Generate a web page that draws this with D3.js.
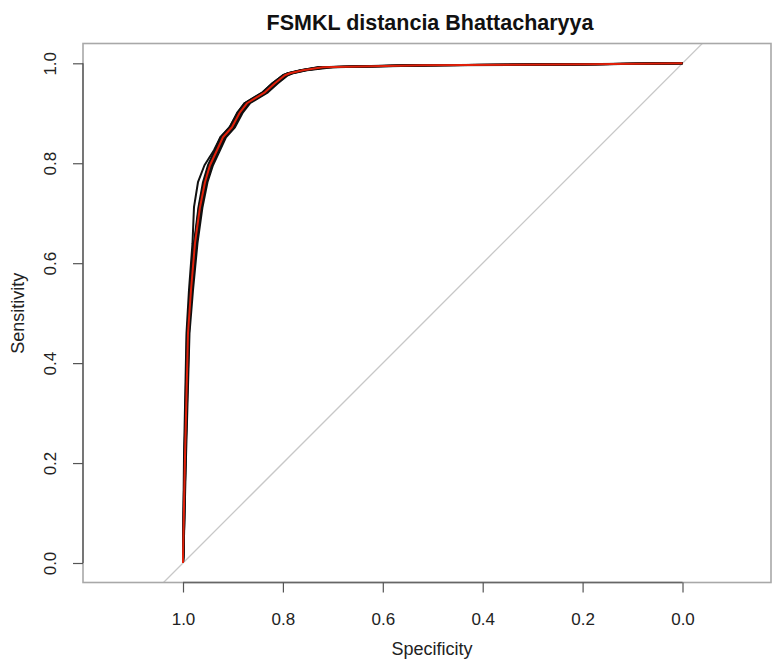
<!DOCTYPE html>
<html>
<head>
<meta charset="utf-8">
<script src="https://cdn.jsdelivr.net/npm/d3@7"></script>
<style>
  html, body { margin: 0; padding: 0; background: #fff; }
  svg { display: block; font-family: "Liberation Sans", Arial, sans-serif; }
</style>
</head>
<body>
<svg id="chart" width="774" height="659"></svg>
<script>
// ROC curves of the cross-validation folds (black) and their mean (red).
const titleText = "FSMKL distancia Bhattacharyya";
const xLabel = "Specificity";
const yLabel = "Sensitivity";
const tickValues = [1.0, 0.8, 0.6, 0.4, 0.2, 0.0];

// Sensitivity levels at which each curve is sampled
const sensitivity = [0, 0.012, 0.212, 0.46, 0.546, 0.64, 0.712, 0.762, 0.796, 0.826, 0.852, 0.872, 0.902, 0.92, 0.93, 0.942, 0.96, 0.976, 0.98, 0.986, 0.992, 0.996, 0.998, 1];

// Specificity of each fold at those sensitivity levels
const fold1 = [1, 1, 0.998, 0.993, 0.988, 0.981, 0.978, 0.970, 0.957, 0.938, 0.925, 0.907, 0.890, 0.877, 0.861, 0.841, 0.821, 0.800, 0.790, 0.765, 0.730, 0.560, 0.22, 0];
const fold2 = [1, 0.999, 0.994, 0.987, 0.980, 0.971, 0.961, 0.951, 0.940, 0.926, 0.914, 0.896, 0.880, 0.866, 0.850, 0.830, 0.810, 0.790, 0.780, 0.752, 0.700, 0.480, 0.16, 0];
const fold3 = [1, 1, 0.997, 0.991, 0.986, 0.978, 0.969, 0.960, 0.950, 0.936, 0.925, 0.906, 0.891, 0.877, 0.860, 0.840, 0.821, 0.800, 0.790, 0.764, 0.728, 0.540, 0.20, 0];
const fold4 = [1, 0.999, 0.995, 0.989, 0.982, 0.973, 0.963, 0.953, 0.942, 0.928, 0.916, 0.898, 0.882, 0.868, 0.852, 0.832, 0.812, 0.792, 0.782, 0.755, 0.710, 0.500, 0.17, 0];
const fold5 = [1, 1, 0.997, 0.992, 0.985, 0.977, 0.968, 0.958, 0.948, 0.935, 0.922, 0.905, 0.889, 0.875, 0.858, 0.838, 0.818, 0.798, 0.788, 0.762, 0.724, 0.530, 0.19, 0];
const fold6 = [1, 0.999, 0.995, 0.988, 0.983, 0.974, 0.964, 0.954, 0.944, 0.930, 0.918, 0.900, 0.884, 0.870, 0.854, 0.834, 0.814, 0.794, 0.784, 0.757, 0.714, 0.510, 0.18, 0];
const fold7 = [1, 1, 0.996, 0.990, 0.985, 0.977, 0.967, 0.957, 0.947, 0.934, 0.921, 0.904, 0.887, 0.873, 0.857, 0.837, 0.817, 0.797, 0.787, 0.761, 0.722, 0.525, 0.19, 0];

// Mean ROC curve
const meanSpecificity = [1, 1, 0.996, 0.990, 0.984, 0.976, 0.966, 0.956, 0.946, 0.932, 0.920, 0.902, 0.886, 0.872, 0.856, 0.836, 0.816, 0.796, 0.786, 0.760, 0.720, 0.520, 0.185, 0];

const folds = [fold1, fold2, fold3, fold4, fold5, fold6, fold7];

const svg = d3.select("#chart");

// Plot region (box) and scales
const box = { left: 83, right: 771, top: 43.5, bottom: 582.5 };
const x = d3.scaleLinear().domain([1, 0]).range([183, 682.5]);
const y = d3.scaleLinear().domain([0, 1]).range([563, 63.3]);

svg.append("clipPath").attr("id", "plotclip")
  .append("rect")
  .attr("x", box.left).attr("y", box.top)
  .attr("width", box.right - box.left).attr("height", box.bottom - box.top);

const plot = svg.append("g").attr("clip-path", "url(#plotclip)");

// Chance diagonal: sensitivity = 1 - specificity, spanning the whole box
const d0 = x.invert(box.left), d1 = x.invert(box.right);
plot.append("line")
  .attr("x1", x(d0)).attr("y1", y(1 - d0))
  .attr("x2", x(d1)).attr("y2", y(1 - d1))
  .attr("stroke", "#c8c8c8").attr("stroke-width", 1.3);

const line = d3.line()
  .x(d => x(d[0]))
  .y(d => y(d[1]));

folds.forEach(spec => {
  plot.append("path")
    .datum(spec.map((s, i) => [s, sensitivity[i]]))
    .attr("d", line)
    .attr("fill", "none")
    .attr("stroke", "#111")
    .attr("stroke-width", 2)
    .attr("stroke-linejoin", "round");
});

plot.append("path")
  .datum(meanSpecificity.map((s, i) => [s, sensitivity[i]]))
  .attr("d", line)
  .attr("fill", "none")
  .attr("stroke", "#e0200a")
  .attr("stroke-width", 2)
  .attr("stroke-linejoin", "round");

// Box
svg.append("rect")
  .attr("x", box.left).attr("y", box.top)
  .attr("width", box.right - box.left).attr("height", box.bottom - box.top)
  .attr("fill", "none").attr("stroke", "#a8a8a8").attr("stroke-width", 1.6);

const fmt = d3.format(".1f");

// Bottom axis
const xAxis = svg.append("g").attr("transform", `translate(0,${box.bottom})`)
  .call(d3.axisBottom(x).tickValues(tickValues).tickFormat(fmt).tickSize(10).tickPadding(20));
xAxis.select(".domain").attr("stroke", "#666").attr("stroke-width", 1.6)
  .attr("d", `M${x(1)},0H${x(0)}`);
xAxis.selectAll(".tick line").attr("stroke", "#555").attr("stroke-width", 1.2);
xAxis.selectAll(".tick text").attr("font-size", 17).attr("fill", "#222")
  .attr("font-family", "Liberation Sans, Arial, sans-serif");

// Left axis
const yAxis = svg.append("g").attr("transform", `translate(${box.left},0)`)
  .call(d3.axisLeft(y).tickValues(tickValues).tickFormat(fmt).tickSize(10));
yAxis.select(".domain").attr("stroke", "#666").attr("stroke-width", 1.6)
  .attr("d", `M0,${y(0)}V${y(1)}`);
yAxis.selectAll(".tick line").attr("stroke", "#555").attr("stroke-width", 1.2);
yAxis.selectAll(".tick text")
  .attr("font-size", 17).attr("fill", "#222")
  .attr("font-family", "Liberation Sans, Arial, sans-serif")
  .attr("x", null).attr("dy", null)
  .attr("text-anchor", "middle")
  .attr("transform", "translate(-27,0) rotate(-90)");

// Titles
svg.append("text")
  .attr("x", 430).attr("y", 30)
  .attr("text-anchor", "middle")
  .attr("font-size", 21.5).attr("font-weight", "bold").attr("fill", "#111")
  .text(titleText);

svg.append("text")
  .attr("x", 432).attr("y", 655)
  .attr("text-anchor", "middle")
  .attr("font-size", 18).attr("fill", "#222")
  .text(xLabel);

svg.append("text")
  .attr("transform", `translate(24,${(y(0) + y(1)) / 2}) rotate(-90)`)
  .attr("text-anchor", "middle")
  .attr("font-size", 18).attr("fill", "#222")
  .text(yLabel);
</script>
</body>
</html>
